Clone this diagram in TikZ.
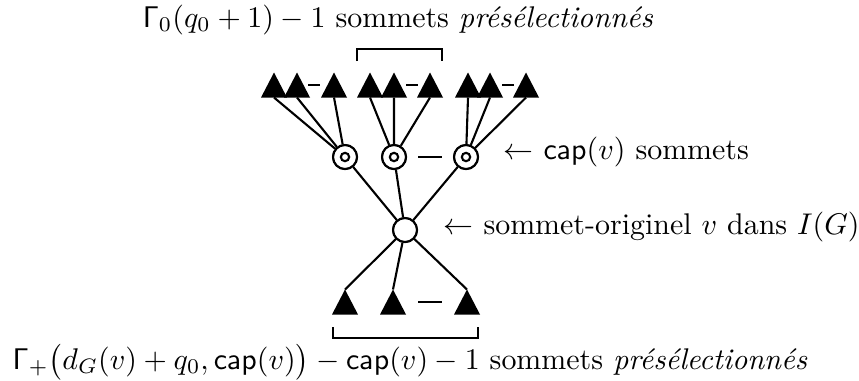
\documentclass[tikz,border=0pt]{standalone}
\usepackage{amsmath}
\tikzset{
  edge/.style={line width=0.7pt},
  vtx/.style={circle, draw, line width=0.7pt, fill=white, minimum size=8pt, inner sep=0pt},
  ring/.style={line width=0.7pt},
  trifill/.style={fill=black},
  bracket/.style={line width=0.35pt},
  dashmark/.style={line width=0.7pt},
  lbl/.style={inner sep=0pt, anchor=west},
}
\newcommand{\mytri}[3]{%
  \coordinate (#1) at (#2,#3);
  \fill[trifill] (#2-13,#3+12.5) -- (#2,#3-12.5) -- (#2+13,#3+12.5) -- cycle;
}
\begin{document}
\begin{tikzpicture}[x=0.334pt,y=-0.334pt]
\useasboundingbox (0,0) rectangle (859,380);
% vertices
\node[vtx] (c) at (405,230) {};
\node[vtx] (c1) at (345,157) {};
\node[vtx] (c2) at (394,157) {};
\node[vtx] (c3) at (466,157) {};
% top triangle base points
\coordinate (t1s) at (274,97.5);
\coordinate (t2s) at (297,97.5);
\coordinate (t3s) at (334,97.5);
\coordinate (t4s) at (370,97.5);
\coordinate (t5s) at (394,97.5);
\coordinate (t6s) at (430,97.5);
\coordinate (t7s) at (468,97.5);
\coordinate (t8s) at (490,97.5);
\coordinate (t9s) at (526,97.5);
% bottom triangle apex points
\coordinate (b1n) at (345,289.5);
\coordinate (b2n) at (393,289.5);
\coordinate (b3n) at (467,289.5);
% edges
\draw[edge] (c1) -- (t1s) (c1) -- (t2s) (c1) -- (t3s);
\draw[edge] (c2) -- (t4s) (c2) -- (t5s) (c2) -- (t6s);
\draw[edge] (c3) -- (t7s) (c3) -- (t8s) (c3) -- (t9s);
\draw[edge] (c) -- (c1) (c) -- (c2) (c) -- (c3);
\draw[edge] (c) -- (b1n) (c) -- (b2n) (c) -- (b3n);
% redraw vertices on top
\node[vtx] at (c) {};
\node[vtx] at (c1) {};
\node[vtx] at (c2) {};
\node[vtx] at (c3) {};
\foreach \v in {c1,c2,c3} \draw[ring] (\v) circle[radius=1.4pt];
% triangles
\mytri{t1}{274}{85}
\mytri{t2}{297}{85}
\mytri{t3}{334}{85}
\mytri{t4}{370}{85}
\mytri{t5}{394}{85}
\mytri{t6}{430}{85}
\mytri{t7}{468}{85}
\mytri{t8}{490}{85}
\mytri{t9}{526}{85}
\mytri{b1}{345}{302}
\mytri{b2}{393}{302}
\mytri{b3}{467}{302}
% dashes
\draw[dashmark] (308,85) -- (320,85);
\draw[dashmark] (406,85) -- (418,85);
\draw[dashmark] (502,85) -- (514,85);
\draw[dashmark] (418,157) -- (442,157);
\draw[dashmark] (418,302) -- (442,302);
% brackets
\draw[bracket] (357,61) -- (357,49) -- (442,49) -- (442,61);
\draw[bracket] (333,327) -- (333,338) -- (478,338) -- (478,327);
% texts
\node[inner sep=0pt] (ttop) at (398,20) {$\mathsf{\Gamma}_0(q_0+1)-1$ sommets \emph{présélectionnés}};
\node[inner sep=0pt] (tbot) at (410,362) {$\mathsf{\Gamma}_+\bigl(d_G(v)+q_0,\mathsf{cap}(v)\bigr)-\mathsf{cap}(v)-1$ sommets \emph{présélectionnés}};
\node[lbl] (lc) at (503,152) {$\leftarrow$ $\mathsf{cap}(v)$ sommets};
\node[lbl] (lv) at (443,227) {$\leftarrow$ sommet-originel $v$ dans $I(G)$};
\end{tikzpicture}
\end{document}
